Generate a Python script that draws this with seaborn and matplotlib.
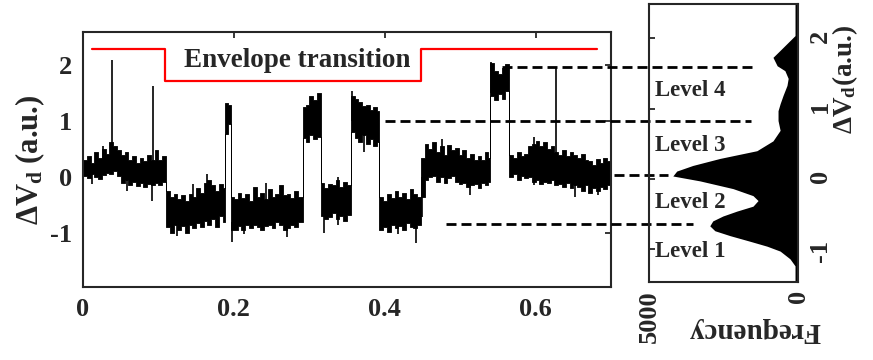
import matplotlib
matplotlib.use('Agg')
import matplotlib.pyplot as plt
import seaborn as sns

trace_t = [0.000, 0.005, 0.010, 0.015, 0.020, 0.025, 0.030, 0.035, 0.040, 0.045, 0.050,
           0.055, 0.060, 0.065, 0.070, 0.075, 0.080, 0.085, 0.090, 0.095, 0.100, 0.105,
           0.110, 0.115, 0.120, 0.125, 0.130, 0.135, 0.140, 0.145, 0.150, 0.155, 0.160,
           0.165, 0.170, 0.175, 0.180, 0.185,
           0.188, 0.192,
           0.196, 0.200, 0.205, 0.210, 0.215, 0.220, 0.225, 0.230, 0.235, 0.240, 0.245,
           0.250, 0.255, 0.260, 0.265, 0.270, 0.275, 0.280, 0.285,
           0.291, 0.296, 0.300, 0.305, 0.310,
           0.315, 0.320, 0.325, 0.330, 0.335, 0.340, 0.345, 0.350,
           0.355, 0.360, 0.365, 0.370, 0.375, 0.380, 0.385, 0.390,
           0.393, 0.398, 0.403, 0.408, 0.413, 0.418, 0.423, 0.428, 0.433, 0.438, 0.443,
           0.448, 0.453, 0.458, 0.463, 0.468, 0.473, 0.478, 0.483, 0.488, 0.493, 0.498,
           0.503, 0.508, 0.513, 0.518, 0.523, 0.528, 0.533, 0.537,
           0.540, 0.545, 0.550, 0.555, 0.560,
           0.565, 0.570, 0.575, 0.580, 0.585, 0.590, 0.595, 0.600, 0.605, 0.610, 0.615,
           0.620, 0.625, 0.630, 0.635, 0.640, 0.645, 0.650, 0.655, 0.660, 0.665, 0.670,
           0.675, 0.680, 0.685, 0.690, 0.695, 0.700]
trace_hi = [0.30, 0.38, 0.25, 0.45, 0.35, 0.50, 0.42, 0.62, 0.55, 0.48, 0.40,
            0.45, 0.30, 0.38, 0.25, 0.35, 0.28, 0.40, 0.30, 0.48, 0.30, 0.38,
            -0.25, -0.35, -0.30, -0.40, -0.32, -0.42, -0.30, -0.36, -0.20, -0.28, -0.10,
            -0.05, -0.15, -0.25, -0.12, -0.20,
            1.33, 1.30,
            -0.35, -0.40, -0.28, -0.38, -0.30, -0.42, -0.18, -0.35, -0.28, -0.40, -0.22,
            -0.35, -0.30, -0.15, -0.32, -0.30, -0.38, -0.25, -0.35,
            1.25, 1.30, 1.45, 1.38, 1.50,
            -0.10, -0.20, -0.12, -0.15, -0.05, -0.18, -0.08, -0.15,
            1.45, 1.40, 1.35, 1.28, 1.30, 1.20, 1.25, 1.18,
            -0.35, -0.42, -0.30, -0.38, -0.25, -0.35, -0.28, -0.40, -0.22, -0.30, -0.35,
            0.35, 0.60, 0.50, 0.62, 0.45, 0.55, 0.40, 0.58, 0.48, 0.52, 0.40,
            0.48, 0.35, 0.42, 0.30, 0.38, 0.30, 0.45, 0.35,
            2.05, 1.90, 1.85, 1.95, 2.02,
            0.40, 0.35, 0.45, 0.38, 0.42, 0.55, 0.60, 0.65, 0.55, 0.62, 0.50,
            0.55, 0.45, 0.40, 0.48, 0.38, 0.45, 0.40, 0.35, 0.42, 0.30, 0.28,
            0.22, 0.32, 0.25, 0.35, 0.28, 0.28]
trace_lo = [0.02, -0.02, 0.05, 0.00, -0.04, 0.03, 0.08, 0.05, 0.10, 0.02, -0.10,
            -0.05, -0.14, -0.08, -0.16, -0.10, -0.18, -0.12, -0.15, -0.10, -0.15, -0.08,
            -0.90, -1.00, -0.85, -0.95, -0.88, -1.00, -0.85, -0.92, -0.82, -0.90, -0.78,
            -0.85, -0.75, -0.90, -0.70, -0.80,
            0.78, 0.95,
            -0.95, -0.95, -0.88, -0.95, -0.85, -0.92, -0.85, -0.90, -0.95, -0.88, -0.85,
            -0.92, -0.80, -0.85, -0.95, -0.92, -0.85, -0.90, -0.80,
            0.70, 0.62, 0.75, 0.68, 0.72,
            -0.70, -0.75, -0.72, -0.65, -0.75, -0.70, -0.78, -0.68,
            0.80, 0.70, 0.62, 0.75, 0.60, 0.68, 0.55, 0.62,
            -0.95, -0.90, -0.98, -0.85, -0.92, -0.88, -0.95, -0.82, -0.90, -0.92, -0.85,
            -0.36, -0.05, 0.00, 0.02, -0.08, 0.00, -0.10, -0.02, 0.02, -0.08, -0.12,
            -0.10, -0.18, -0.15, -0.12, -0.20, -0.10, -0.15, -0.08,
            1.45, 1.38, 1.48, 1.40, 1.55,
            0.00, 0.05, -0.05, 0.02, -0.02, 0.00, -0.08, -0.05, -0.12, -0.08, -0.10,
            -0.05, -0.15, -0.12, -0.18, -0.10, -0.20, -0.15, -0.18, -0.25, -0.15, -0.28,
            -0.20, -0.25, -0.18, -0.22, -0.15, -0.15]

# single spikes / outliers of the trace
spike_t = [0.038, 0.093, 0.627, 0.091, 0.164, 0.197, 0.270, 0.320, 0.356, 0.441, 0.449, 0.513, 0.541,
           0.012, 0.027, 0.058, 0.124, 0.146, 0.214, 0.243, 0.338, 0.372, 0.418, 0.476, 0.598, 0.652, 0.683]
spike_lo = [0.30, 0.20, 0.20, -0.42, -0.30, -1.16, -1.07, -1.01, 1.00, -1.19, -0.71, -0.33, 1.50,
            -0.12, 0.20, -0.25, -1.05, -0.60, -1.02, -0.60, -0.85, 0.45, -1.02, 0.20, -0.15, -0.35, -0.32]
spike_hi = [2.10, 1.63, 1.95, 0.00, 0.06, -0.80, -0.80, -0.70, 1.55, -0.80, 0.00, 0.00, 2.07,
            0.10, 0.55, 0.00, -0.70, -0.12, -0.70, -0.10, 0.00, 1.10, -0.70, 0.68, 0.72, 0.05, 0.05]

# red envelope line
env_t = [0.012, 0.109, 0.448, 0.682]
env_v = [2.30, 1.73, 2.30, 2.30]

# histogram of the trace (right panel)
hist_v = [2.49, 2.04, 1.83, 1.73, 1.61, 1.54, 1.43, 1.33, 1.19, 1.07, 0.97, 0.83,
          0.69, 0.54, 0.40, 0.29, 0.19, 0.11, 0.04, -0.03, -0.14, -0.24, -0.31, -0.39,
          -0.46, -0.53, -0.60, -0.67, -0.74, -0.81, -0.89, -0.96, -1.03, -1.14, -1.24, -1.49]
hist_f = [100, 100, 600, 840, 700, 440, 330, 370, 500, 600, 670, 670,
          600, 840, 1380, 2620, 3530, 4070, 4200, 3290, 2180, 1510, 1340, 1510,
          2050, 2520, 2860, 2960, 2790, 2280, 1610, 1040, 600, 270, 100, 100]

# dashed level guides (start time, end time in left-panel units, level)
guide_x0 = [0.556, 0.400, 0.704, 0.481]
guide_x1 = [0.889, 0.886, 0.776, 0.809]
guide_y = [1.98, 1.00, 0.045, -0.84]

level_names = ['Level 4', 'Level 3', 'Level 2', 'Level 1']
level_v = [1.26, 0.47, -0.34, -1.03]

sns.set_style('white')
plt.rcParams['font.family'] = ['Liberation Serif', 'DejaVu Serif']
plt.rcParams['font.weight'] = 'bold'
plt.rcParams['axes.labelweight'] = 'bold'
plt.rcParams['mathtext.fontset'] = 'custom'
plt.rcParams['mathtext.rm'] = 'Liberation Serif:bold'
plt.rcParams['mathtext.it'] = 'Liberation Serif:bold'
plt.rcParams['mathtext.bf'] = 'Liberation Serif:bold'
plt.rcParams['axes.unicode_minus'] = False

fig = plt.figure(figsize=(8.73, 3.6), dpi=100)
ax = fig.add_axes([0.0951, 0.2028, 0.6048, 0.7083])
ax2 = fig.add_axes([0.7434, 0.2167, 0.1707, 0.7722])

# left: time trace
ax.fill_between(trace_t, trace_lo, trace_hi, step='post', color='k', lw=0.6)
ax.vlines(spike_t, spike_lo, spike_hi, color='k', lw=1.2)
sns.lineplot(x=env_t, y=env_v, ax=ax, color='red', lw=1.6, drawstyle='steps-post')
ax.text(0.284, 2.09, 'Envelope transition', ha='center', va='center', fontsize=19.5)
for x0, x1, y in zip(guide_x0, guide_x1, guide_y):
    ax.plot([x0, x1], [y, y], color='k', lw=2, ls=(0, (3.6, 1.8)), clip_on=False, zorder=5)

ax.set_xlim(0, 0.7)
ax.set_ylim(-1.97, 2.6)
ax.set_xticks([0, 0.2, 0.4, 0.6])
ax.set_xticklabels(['0', '0.2', '0.4', '0.6'])
ax.set_yticks([-1, 0, 1, 2])
ax.tick_params(direction='in', top=True, right=True, length=4, width=1.3,
               labelsize=19, pad=8)
ax.set_ylabel(r'ΔV$_\mathbf{d}$ (a.u.)', fontsize=22, labelpad=2)
for s in ax.spines.values():
    s.set_linewidth(1.5)

# right: histogram turned on its side
ax2.set_facecolor('none')
ax2.fill_betweenx(hist_v, 0, hist_f, color='k', lw=0)
for name, v in zip(level_names, level_v):
    ax2.text(4800, v, name, ha='left', va='center', fontsize=16.5)
ax2.set_xlim(5000, 0)
ax2.set_ylim(-1.47, 2.49)
ax2.set_xticks([5000, 0])
ax2.set_xticklabels(['5000', '0'], rotation=90)
ax2.set_yticks([-1, 0, 1, 2])
ax2.tick_params(axis='y', direction='in', left=True, right=False, labelleft=False,
                labelright=True, labelrotation=90, length=4, width=1.3, labelsize=19, pad=8)
ax2.tick_params(axis='x', direction='in', length=0, labelsize=19, pad=6)
ax2.set_xlabel('Frequency', fontsize=21, rotation=180)
ax2.xaxis.set_label_coords(0.71, -0.126)
ax2.yaxis.set_label_position('right')
ax2.set_ylabel(r'ΔV$_\mathbf{d}$(a.u.)', fontsize=19.5, rotation=90)
ax2.yaxis.set_label_coords(1.215, 0.73)
for s in ax2.spines.values():
    s.set_linewidth(1.5)

fig.savefig('out.png', dpi=100)
